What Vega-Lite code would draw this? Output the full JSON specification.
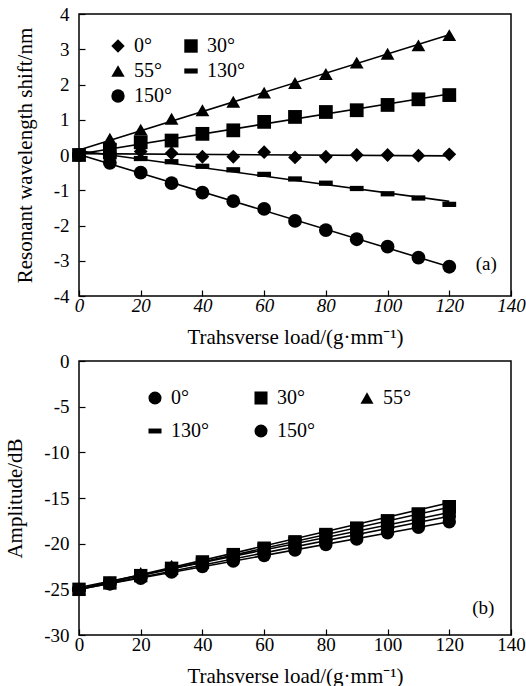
{
  "$schema": "https://vega.github.io/schema/vega-lite/v6.json",
  "padding": {"left": 3, "top": 4, "right": 4, "bottom": 0},
  "background": "white",
  "spacing": 3,
  "config": {
    "font": "Liberation Serif",
    "view": {"stroke": "black", "strokeWidth": 1.5},
    "axis": {"domain": false, "grid": false, "tickColor": "black", "tickSize": -6, "tickWidth": 1.2, "labelColor": "black", "titleColor": "black", "labelFont": "Liberation Serif", "titleFont": "Liberation Serif", "labelFontSize": 19, "titleFontSize": 21, "titleFontWeight": "normal", "labelOverlap": false, "labelFlush": false},
    "axisY": {"labelPadding": 16, "titlePadding": 18, "labelOverlap": false},
    "axisX": {"labelPadding": 6, "titlePadding": 11},
    "legend": {"orient": "none", "title": null, "direction": "horizontal", "labelFont": "Liberation Serif", "labelFontSize": 20, "labelColor": "black", "labelOffset": 6, "symbolFillColor": "black", "symbolStrokeColor": "black", "symbolSize": 170}
  },
  "datasets": {
    "a": [
      {"load": 0, "shift": 0, "series": "0°"}, {"load": 10, "shift": 0.08, "series": "0°"}, {"load": 20, "shift": 0.1, "series": "0°"}, {"load": 30, "shift": 0.05, "series": "0°"}, {"load": 40, "shift": -0.05, "series": "0°"}, {"load": 50, "shift": -0.05, "series": "0°"}, {"load": 60, "shift": 0.08, "series": "0°"}, {"load": 70, "shift": -0.07, "series": "0°"}, {"load": 80, "shift": -0.05, "series": "0°"}, {"load": 90, "shift": 0, "series": "0°"}, {"load": 100, "shift": 0, "series": "0°"}, {"load": 110, "shift": -0.02, "series": "0°"}, {"load": 120, "shift": 0.02, "series": "0°"},
      {"load": 0, "shift": 0, "series": "30°"}, {"load": 10, "shift": 0.15, "series": "30°"}, {"load": 20, "shift": 0.36, "series": "30°"}, {"load": 30, "shift": 0.41, "series": "30°"}, {"load": 40, "shift": 0.6, "series": "30°"}, {"load": 50, "shift": 0.7, "series": "30°"}, {"load": 60, "shift": 0.94, "series": "30°"}, {"load": 70, "shift": 1.08, "series": "30°"}, {"load": 80, "shift": 1.22, "series": "30°"}, {"load": 90, "shift": 1.27, "series": "30°"}, {"load": 100, "shift": 1.42, "series": "30°"}, {"load": 110, "shift": 1.58, "series": "30°"}, {"load": 120, "shift": 1.7, "series": "30°"},
      {"load": 0, "shift": 0, "series": "55°"}, {"load": 10, "shift": 0.46, "series": "55°"}, {"load": 20, "shift": 0.72, "series": "55°"}, {"load": 30, "shift": 1.03, "series": "55°"}, {"load": 40, "shift": 1.27, "series": "55°"}, {"load": 50, "shift": 1.51, "series": "55°"}, {"load": 60, "shift": 1.77, "series": "55°"}, {"load": 70, "shift": 2.04, "series": "55°"}, {"load": 80, "shift": 2.3, "series": "55°"}, {"load": 90, "shift": 2.62, "series": "55°"}, {"load": 100, "shift": 2.87, "series": "55°"}, {"load": 110, "shift": 3.11, "series": "55°"}, {"load": 120, "shift": 3.4, "series": "55°"},
      {"load": 0, "shift": 0, "series": "130°"}, {"load": 10, "shift": -0.05, "series": "130°"}, {"load": 20, "shift": -0.1, "series": "130°"}, {"load": 30, "shift": -0.19, "series": "130°"}, {"load": 40, "shift": -0.32, "series": "130°"}, {"load": 50, "shift": -0.42, "series": "130°"}, {"load": 60, "shift": -0.55, "series": "130°"}, {"load": 70, "shift": -0.68, "series": "130°"}, {"load": 80, "shift": -0.8, "series": "130°"}, {"load": 90, "shift": -0.95, "series": "130°"}, {"load": 100, "shift": -1.1, "series": "130°"}, {"load": 110, "shift": -1.22, "series": "130°"}, {"load": 120, "shift": -1.4, "series": "130°"},
      {"load": 0, "shift": 0, "series": "150°"}, {"load": 10, "shift": -0.22, "series": "150°"}, {"load": 20, "shift": -0.5, "series": "150°"}, {"load": 30, "shift": -0.8, "series": "150°"}, {"load": 40, "shift": -1.07, "series": "150°"}, {"load": 50, "shift": -1.31, "series": "150°"}, {"load": 60, "shift": -1.53, "series": "150°"}, {"load": 70, "shift": -1.87, "series": "150°"}, {"load": 80, "shift": -2.13, "series": "150°"}, {"load": 90, "shift": -2.39, "series": "150°"}, {"load": 100, "shift": -2.6, "series": "150°"}, {"load": 110, "shift": -2.91, "series": "150°"}, {"load": 120, "shift": -3.17, "series": "150°"}
    ],
    "b": [
      {"load": 0, "amp": -25, "series": "0°"}, {"load": 10, "amp": -24.4, "series": "0°"}, {"load": 20, "amp": -23.7, "series": "0°"}, {"load": 30, "amp": -23.0, "series": "0°"}, {"load": 40, "amp": -22.3, "series": "0°"}, {"load": 50, "amp": -21.7, "series": "0°"}, {"load": 60, "amp": -21.0, "series": "0°"}, {"load": 70, "amp": -20.3, "series": "0°"}, {"load": 80, "amp": -19.7, "series": "0°"}, {"load": 90, "amp": -19.0, "series": "0°"}, {"load": 100, "amp": -18.3, "series": "0°"}, {"load": 110, "amp": -17.7, "series": "0°"}, {"load": 120, "amp": -17.0, "series": "0°"},
      {"load": 0, "amp": -25, "series": "30°"}, {"load": 10, "amp": -24.3, "series": "30°"}, {"load": 20, "amp": -23.5, "series": "30°"}, {"load": 30, "amp": -22.7, "series": "30°"}, {"load": 40, "amp": -22.0, "series": "30°"}, {"load": 50, "amp": -21.2, "series": "30°"}, {"load": 60, "amp": -20.5, "series": "30°"}, {"load": 70, "amp": -19.8, "series": "30°"}, {"load": 80, "amp": -19.0, "series": "30°"}, {"load": 90, "amp": -18.3, "series": "30°"}, {"load": 100, "amp": -17.5, "series": "30°"}, {"load": 110, "amp": -16.8, "series": "30°"}, {"load": 120, "amp": -16.0, "series": "30°"},
      {"load": 0, "amp": -25, "series": "55°"}, {"load": 10, "amp": -24.2, "series": "55°"}, {"load": 20, "amp": -23.2, "series": "55°"}, {"load": 30, "amp": -22.4, "series": "55°"}, {"load": 40, "amp": -22.1, "series": "55°"}, {"load": 50, "amp": -21.4, "series": "55°"}, {"load": 60, "amp": -20.8, "series": "55°"}, {"load": 70, "amp": -20.1, "series": "55°"}, {"load": 80, "amp": -19.4, "series": "55°"}, {"load": 90, "amp": -18.7, "series": "55°"}, {"load": 100, "amp": -18.0, "series": "55°"}, {"load": 110, "amp": -17.2, "series": "55°"}, {"load": 120, "amp": -16.5, "series": "55°"},
      {"load": 0, "amp": -25, "series": "130°"}, {"load": 10, "amp": -24.2, "series": "130°"}, {"load": 20, "amp": -23.4, "series": "130°"}, {"load": 30, "amp": -22.6, "series": "130°"}, {"load": 40, "amp": -21.8, "series": "130°"}, {"load": 50, "amp": -21.0, "series": "130°"}, {"load": 60, "amp": -20.2, "series": "130°"}, {"load": 70, "amp": -19.5, "series": "130°"}, {"load": 80, "amp": -18.7, "series": "130°"}, {"load": 90, "amp": -17.9, "series": "130°"}, {"load": 100, "amp": -17.1, "series": "130°"}, {"load": 110, "amp": -16.3, "series": "130°"}, {"load": 120, "amp": -15.5, "series": "130°"},
      {"load": 0, "amp": -25, "series": "150°"}, {"load": 10, "amp": -24.4, "series": "150°"}, {"load": 20, "amp": -23.8, "series": "150°"}, {"load": 30, "amp": -23.1, "series": "150°"}, {"load": 40, "amp": -22.5, "series": "150°"}, {"load": 50, "amp": -21.9, "series": "150°"}, {"load": 60, "amp": -21.3, "series": "150°"}, {"load": 70, "amp": -20.7, "series": "150°"}, {"load": 80, "amp": -20.1, "series": "150°"}, {"load": 90, "amp": -19.5, "series": "150°"}, {"load": 100, "amp": -18.8, "series": "150°"}, {"load": 110, "amp": -18.2, "series": "150°"}, {"load": 120, "amp": -17.6, "series": "150°"}
    ]
  },
  "vconcat": [
    {
      "width": 432,
      "height": 282,
      "encoding": {
        "x": {"type": "quantitative", "title": "Trahsverse load/(g·mm⁻¹)", "scale": {"domain": [0, 140], "nice": false}, "axis": {"values": [0, 20, 40, 60, 80, 100, 120, 140], "labelFontStyle": "italic", "labelFontSize": 19, "labelExpr": "'' + datum.value"}},
        "y": {"type": "quantitative", "title": "Resonant wavelength shift/nm", "scale": {"domain": [-4, 4], "nice": false}, "axis": {"values": [-4, -3, -2, -1, 0, 1, 2, 3, 4], "labelOverlap": false, "labelExpr": "'' + datum.value"}}
      },
      "layer": [
        {
          "data": {"name": "a"},
          "transform": [{"regression": "shift", "on": "load", "groupby": ["series"], "extent": [0, 120]}],
          "mark": {"type": "line", "color": "black", "strokeWidth": 1.6},
          "encoding": {
            "x": {"field": "load"},
            "y": {"field": "shift"},
            "detail": {"field": "series"}
          }
        },
        {
          "data": {"name": "a"},
          "mark": {"type": "point", "filled": true, "color": "black", "opacity": 1, "size": 190},
          "encoding": {
            "x": {"field": "load"},
            "y": {"field": "shift"},
            "shape": {
              "field": "series", "type": "nominal",
              "scale": {"domain": ["0°", "30°", "55°", "130°", "150°"], "range": ["diamond", "square", "triangle-up", "M-1,-0.38H1V0.38H-1Z", "circle"]},
              "legend": {"legendX": 29, "legendY": 22, "columns": 2, "columnPadding": 9, "rowPadding": 5, "symbolSize": 180, "labelFont": "Liberation Serif", "labelFontSize": 20}
            }
          }
        },
        {
          "data": {"values": [{"load": 132, "shift": -3.1, "label": "(a)"}]},
          "mark": {"type": "text", "fontSize": 19, "color": "black", "font": "Liberation Serif"},
          "encoding": {"x": {"field": "load"}, "y": {"field": "shift"}, "text": {"field": "label"}}
        }
      ]
    },
    {
      "width": 432,
      "height": 274,
      "encoding": {
        "x": {"type": "quantitative", "title": "Trahsverse load/(g·mm⁻¹)", "scale": {"domain": [0, 140], "nice": false}, "axis": {"values": [0, 20, 40, 60, 80, 100, 120, 140], "labelFontSize": 19, "labelExpr": "'' + datum.value"}},
        "y": {"type": "quantitative", "title": "Amplitude/dB", "scale": {"domain": [-30, 0], "nice": false}, "axis": {"values": [-30, -25, -20, -15, -10, -5, 0], "labelOverlap": false, "labelExpr": "'' + datum.value"}}
      },
      "layer": [
        {
          "data": {"name": "b"},
          "transform": [{"regression": "amp", "on": "load", "groupby": ["series"], "extent": [0, 120]}],
          "mark": {"type": "line", "color": "black", "strokeWidth": 1.6},
          "encoding": {
            "x": {"field": "load"},
            "y": {"field": "amp"},
            "detail": {"field": "series"}
          }
        },
        {
          "data": {"name": "b"},
          "mark": {"type": "point", "filled": true, "color": "black", "opacity": 1, "size": 180},
          "encoding": {
            "x": {"field": "load"},
            "y": {"field": "amp"},
            "shape": {
              "field": "series", "type": "nominal",
              "scale": {"domain": ["0°", "30°", "55°", "130°", "150°"], "range": ["circle", "square", "triangle-up", "M-1,-0.38H1V0.38H-1Z", "circle"]},
              "legend": {"legendX": 66, "legendY": 27, "columns": 3, "columnPadding": 42, "rowPadding": 13, "labelFont": "Liberation Serif", "labelFontSize": 20}
            }
          }
        },
        {
          "data": {"values": [{"load": 131, "amp": -27, "label": "(b)"}]},
          "mark": {"type": "text", "fontSize": 19, "color": "black", "font": "Liberation Serif"},
          "encoding": {"x": {"field": "load"}, "y": {"field": "amp"}, "text": {"field": "label"}}
        }
      ]
    }
  ],
  "resolve": {"scale": {"shape": "independent"}}
}
